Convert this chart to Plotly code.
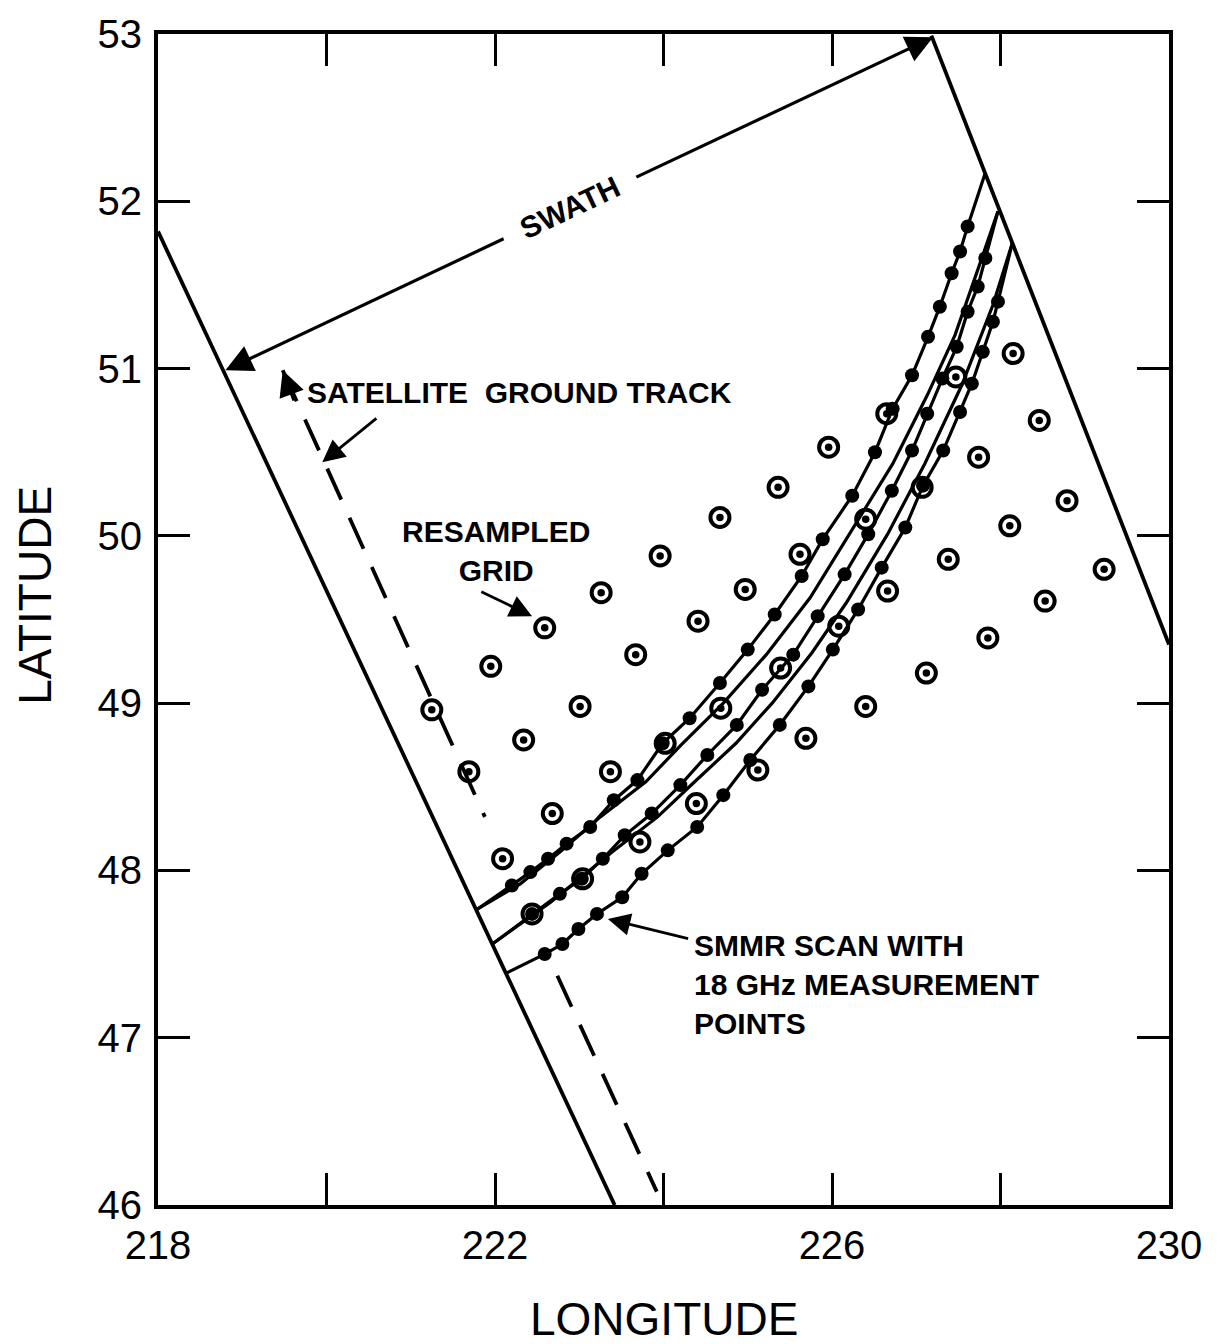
import plotly.graph_objects as go

# ---------------- data (longitude / latitude, degrees) ----------------
x_tick_vals = [218, 220, 222, 224, 226, 228, 230]
x_tick_text = ["218", "", "222", "", "226", "", "230"]
y_tick_vals = [46, 47, 48, 49, 50, 51, 52, 53]
y_tick_text = ["46", "47", "48", "49", "50", "51", "52", "53"]

# resampled grid points
grid_lon = [221.25, 221.95, 222.59, 223.26, 223.96, 224.67, 225.36, 225.96, 226.65, 227.47, 228.15,
            221.69, 222.34, 223.01, 223.67, 224.41, 224.97, 225.62, 226.40, 227.07, 227.74, 228.46,
            222.09, 222.68, 223.37, 224.02, 224.68, 225.39, 226.08, 226.66, 227.38, 228.11, 228.79,
            222.44, 223.04, 223.72, 224.39, 225.12, 225.69, 226.40, 227.12, 227.85, 228.53, 229.23]
grid_lat = [48.96, 49.22, 49.45, 49.66, 49.88, 50.11, 50.29, 50.53, 50.73, 50.95, 51.09,
            48.59, 48.78, 48.98, 49.29, 49.49, 49.68, 49.89, 50.10, 50.29, 50.47, 50.69,
            48.07, 48.34, 48.59, 48.76, 48.97, 49.21, 49.46, 49.67, 49.86, 50.06, 50.21,
            47.74, 47.95, 48.17, 48.40, 48.60, 48.79, 48.98, 49.18, 49.39, 49.61, 49.80]

# SMMR 18 GHz measurement points along three scans
scan1_lon = [222.20, 222.42, 222.63, 222.85, 223.13, 223.41, 223.69, 223.99, 224.31, 224.67, 225.00, 225.32,
             225.64, 225.89, 226.24, 226.51, 226.72, 226.95, 227.14, 227.28, 227.42, 227.52, 227.61]
scan1_lat = [47.91, 47.99, 48.07, 48.16, 48.26, 48.42, 48.54, 48.76, 48.91, 49.12, 49.32, 49.53,
             49.76, 49.98, 50.24, 50.50, 50.76, 50.96, 51.19, 51.37, 51.57, 51.70, 51.85]
scan2_lon = [222.44, 222.77, 223.03, 223.28, 223.54, 223.86, 224.20, 224.52, 224.87, 225.17, 225.54,
             225.83, 226.15, 226.43, 226.71, 226.95, 227.13, 227.31, 227.48, 227.61, 227.73, 227.82]
scan2_lat = [47.74, 47.86, 47.95, 48.07, 48.21, 48.34, 48.51, 48.69, 48.87, 49.08, 49.29,
             49.52, 49.77, 50.01, 50.27, 50.51, 50.73, 50.94, 51.13, 51.34, 51.49, 51.66]
scan3_lon = [222.59, 222.80, 222.99, 223.21, 223.51, 223.74, 224.05, 224.40, 224.71, 225.03, 225.38, 225.72,
             226.01, 226.31, 226.59, 226.87, 227.08, 227.32, 227.52, 227.66, 227.79, 227.91, 227.97]
scan3_lat = [47.50, 47.56, 47.65, 47.74, 47.84, 47.98, 48.12, 48.26, 48.45, 48.66, 48.87, 49.10,
             49.32, 49.56, 49.81, 50.05, 50.30, 50.51, 50.74, 50.91, 51.10, 51.28, 51.40]

# scan end points on the swath edges (left edge, right edge)
scan1_ends_lon = [221.78, 227.82]
scan1_ends_lat = [47.765, 52.17]
scan2_ends_lon = [221.96, 227.97]
scan2_ends_lat = [47.557, 51.94]
scan3_ends_lon = [222.13, 228.14]
scan3_ends_lat = [47.385, 51.75]

# plain scan arcs
arc1_lon = [221.78, 222.30, 222.77, 223.25, 223.79, 224.21, 224.71, 225.22, 225.74, 226.21, 226.72, 227.13, 227.46, 227.73, 227.97]
arc1_lat = [47.765, 47.92, 48.11, 48.32, 48.53, 48.75, 49.00, 49.29, 49.63, 50.01, 50.43, 50.84, 51.20, 51.59, 51.94]
arc2_lon = [221.96, 222.66, 223.39, 223.93, 224.37, 224.86, 225.29, 225.76, 226.17, 226.66, 227.10, 227.54, 227.91, 228.14]
arc2_lat = [47.557, 47.81, 48.11, 48.32, 48.53, 48.76, 49.00, 49.30, 49.60, 50.01, 50.43, 50.90, 51.38, 51.75]

# swath edges
swath_left_lon = [218.0, 223.42]
swath_left_lat = [51.82, 46.0]
swath_right_lon = [227.18, 230.0]
swath_right_lat = [52.99, 49.35]

# satellite ground track (dashed, interrupted by the scan region)
track_upper_lon = [219.48, 221.88]
track_upper_lat = [50.99, 48.32]
track_lower_lon = [222.74, 223.92]
track_lower_lat = [47.37, 46.08]

# swath width arrow (tips and the gap around the label)
swath_arrow_lon = [218.80, 222.12, 223.66, 227.20]
swath_arrow_lat = [50.99, 51.78, 52.14, 52.98]

# ---------------- figure ----------------
fig = go.Figure()
BLK = "black"


def add_line(xs, ys, width=3.0, dash=None):
    fig.add_trace(go.Scatter(x=xs, y=ys, mode="lines",
                             line=dict(color=BLK, width=width, dash=dash),
                             hoverinfo="skip", showlegend=False))


add_line(swath_left_lon, swath_left_lat, 3.8)
add_line(swath_right_lon, swath_right_lat, 3.8)
add_line(track_upper_lon, track_upper_lat, 3.8, "34px,20px")
add_line(track_lower_lon, track_lower_lat, 3.8, "34px,20px")

add_line(arc1_lon, arc1_lat, 3.2)
add_line(arc2_lon, arc2_lat, 3.2)
for lo, la, elo, ela in [(scan1_lon, scan1_lat, scan1_ends_lon, scan1_ends_lat),
                         (scan2_lon, scan2_lat, scan2_ends_lon, scan2_ends_lat),
                         (scan3_lon, scan3_lat, scan3_ends_lon, scan3_ends_lat)]:
    add_line([elo[0]] + lo + [elo[1]], [ela[0]] + la + [ela[1]], 3.2)
    fig.add_trace(go.Scatter(x=lo, y=la, mode="markers",
                             marker=dict(symbol="circle", size=14, color=BLK),
                             hoverinfo="skip", showlegend=False))

# resampled grid: open circle with a centre dot
fig.add_trace(go.Scatter(x=grid_lon, y=grid_lat, mode="markers",
                         marker=dict(symbol="circle-open", size=19, color=BLK, line=dict(width=4, color=BLK)),
                         hoverinfo="skip", showlegend=False))
fig.add_trace(go.Scatter(x=grid_lon, y=grid_lat, mode="markers",
                         marker=dict(symbol="circle", size=7.5, color=BLK),
                         hoverinfo="skip", showlegend=False))

TXT = dict(family="Liberation Sans", size=30, color=BLK, weight="bold")


def arrow(x, y, ax, ay, size=1.6, width=3):
    fig.add_annotation(x=x, y=y, ax=ax, ay=ay, xref="x", yref="y", axref="x", ayref="y",
                       text="", showarrow=True, arrowhead=2, arrowsize=size, arrowwidth=width,
                       arrowcolor=BLK, standoff=0, startstandoff=0)


# swath arrow: two halves with the label between them
arrow(swath_arrow_lon[0], swath_arrow_lat[0], swath_arrow_lon[1], swath_arrow_lat[1], 1.7, 3.2)
arrow(swath_arrow_lon[3], swath_arrow_lat[3], swath_arrow_lon[2], swath_arrow_lat[2], 1.7, 3.2)
fig.add_annotation(x=222.89, y=51.96, xref="x", yref="y", text="SWATH", showarrow=False,
                   textangle=-25.3, font=TXT)

# ground track arrowhead
arrow(track_upper_lon[0], track_upper_lat[0], 219.62, 50.80, 1.6, 3.2)

fig.add_annotation(x=219.745, y=50.855, xref="x", yref="y", text="SATELLITE  GROUND TRACK",
                   showarrow=False, xanchor="left", yanchor="middle", font=TXT)
arrow(219.95, 50.44, 220.61, 50.71, 1.6, 2.8)

fig.add_annotation(x=222.01, y=49.91, xref="x", yref="y", text="RESAMPLED<br>GRID",
                   showarrow=False, align="center", font=TXT)
arrow(222.44, 49.52, 221.82, 49.67, 1.6, 2.8)

fig.add_annotation(x=224.34, y=47.317, xref="x", yref="y",
                   text="SMMR SCAN WITH<br>18 GHz MEASUREMENT<br>POINTS",
                   showarrow=False, xanchor="left", yanchor="middle", align="left", font=TXT)
arrow(223.34, 47.71, 224.31, 47.59, 1.6, 2.8)

# axis titles
fig.add_annotation(x=-0.1217, y=0.521, xref="paper", yref="paper", text="LATITUDE",
                   xanchor="center", yanchor="middle",
                   textangle=-90, showarrow=False, font=dict(family="Liberation Sans", size=46, color=BLK))
fig.add_annotation(x=0.5, y=-0.0976, xref="paper", yref="paper", text="LONGITUDE",
                   xanchor="center", yanchor="middle",
                   showarrow=False, font=dict(family="Liberation Sans", size=46, color=BLK))

axis_common = dict(ticks="inside", ticklen=32, tickwidth=3, tickcolor=BLK, showline=True,
                   linewidth=3.8, linecolor=BLK, mirror="ticks", showgrid=False, zeroline=False,
                   tickfont=dict(family="Liberation Sans", size=40, color=BLK))
fig.update_layout(
    width=1220, height=1344, autosize=False,
    margin=dict(l=158, r=51, t=27, b=139, pad=0),
    plot_bgcolor="white", paper_bgcolor="white", showlegend=False,
    xaxis=dict(range=[218, 230], tickvals=x_tick_vals, ticktext=x_tick_text,
               ticklabelstandoff=2, **axis_common),
    yaxis=dict(range=[46, 53], tickvals=y_tick_vals, ticktext=y_tick_text,
               ticklabelstandoff=4, **axis_common),
)

fig.write_html("out.html", config={"displayModeBar": False},
               post_script="document.body.style.margin='0';document.body.style.overflow='hidden';")
